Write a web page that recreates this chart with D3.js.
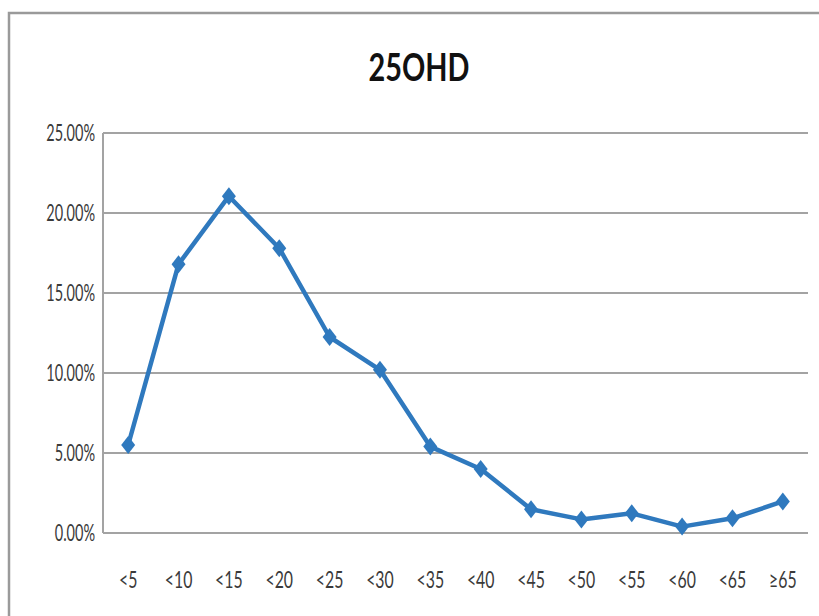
<!DOCTYPE html>
<html>
<head>
<meta charset="utf-8">
<script src="https://cdn.jsdelivr.net/npm/d3@7"></script>
<style>
  html, body { margin: 0; padding: 0; background: #ffffff; }
  svg { display: block; }
</style>
</head>
<body>
<svg id="chart" width="819" height="616"></svg>
<script>
const title = "25OHD";
const categories = ["<5", "<10", "<15", "<20", "<25", "<30", "<35", "<40", "<45", "<50", "<55", "<60", "<65", "≥65"];
const values = [5.5, 16.8, 21.05, 17.8, 12.25, 10.2, 5.4, 4.0, 1.48, 0.85, 1.23, 0.4, 0.92, 1.97];
const yTicks = [0, 5, 10, 15, 20, 25];

const svg = d3.select("#chart");
const W = 819, H = 616;
const plot = { left: 103, right: 808, top: 133, bottom: 533 };
const font = "Lato, 'Open Sans', 'DejaVu Sans', sans-serif";
const gray = "#a3a3a3";
const blue = "#2f79be";

// outer chart frame
svg.append("rect")
  .attr("x", 9).attr("y", 13)
  .attr("width", W + 20).attr("height", H + 20)
  .attr("fill", "#ffffff")
  .attr("stroke", "#9a9a9a").attr("stroke-width", 2.5);

const x = d3.scaleBand().domain(categories).range([plot.left, plot.right]).padding(0);
const y = d3.scaleLinear().domain([0, 25]).range([plot.bottom, plot.top]);
const cx = d => x(d) + x.bandwidth() / 2;

// gridlines
svg.append("g")
  .selectAll("line").data(yTicks).join("line")
  .attr("x1", plot.left).attr("x2", plot.right)
  .attr("y1", d => y(d)).attr("y2", d => y(d))
  .attr("stroke", gray).attr("stroke-width", 2);

// vertical axis line
svg.append("line")
  .attr("x1", plot.left).attr("x2", plot.left)
  .attr("y1", plot.top).attr("y2", plot.bottom)
  .attr("stroke", gray).attr("stroke-width", 2);

// y tick labels
svg.append("g")
  .selectAll("text").data(yTicks).join("text")
  .attr("transform", d => `translate(95,${y(d) + 8}) scale(0.63,1)`)
  .attr("text-anchor", "end")
  .attr("font-family", font).attr("font-size", 23)
  .attr("fill", "#3a3a3a")
  .text(d => d.toFixed(2) + "%");

// x tick labels
svg.append("g")
  .selectAll("text").data(categories).join("text")
  .attr("transform", d => `translate(${cx(d)},588) scale(0.66,1)`)
  .attr("text-anchor", "middle")
  .attr("font-family", font).attr("font-size", 24)
  .attr("fill", "#3a3a3a")
  .text(d => d);

// title
svg.append("text")
  .attr("transform", "translate(419,81) scale(0.74,1)")
  .attr("text-anchor", "middle")
  .attr("font-family", font).attr("font-size", 39).attr("font-weight", "bold")
  .attr("fill", "#111")
  .text(title);

// line
const pts = categories.map((c, i) => [cx(c), y(values[i])]);
svg.append("path")
  .attr("d", d3.line()(pts))
  .attr("fill", "none")
  .attr("stroke", blue).attr("stroke-width", 4.5)
  .attr("stroke-linejoin", "round");

// diamond markers
svg.append("g")
  .selectAll("path").data(pts).join("path")
  .attr("d", d => `M${d[0]},${d[1] - 9} L${d[0] + 7},${d[1]} L${d[0]},${d[1] + 9} L${d[0] - 7},${d[1]} Z`)
  .attr("fill", blue);
</script>
</body>
</html>
